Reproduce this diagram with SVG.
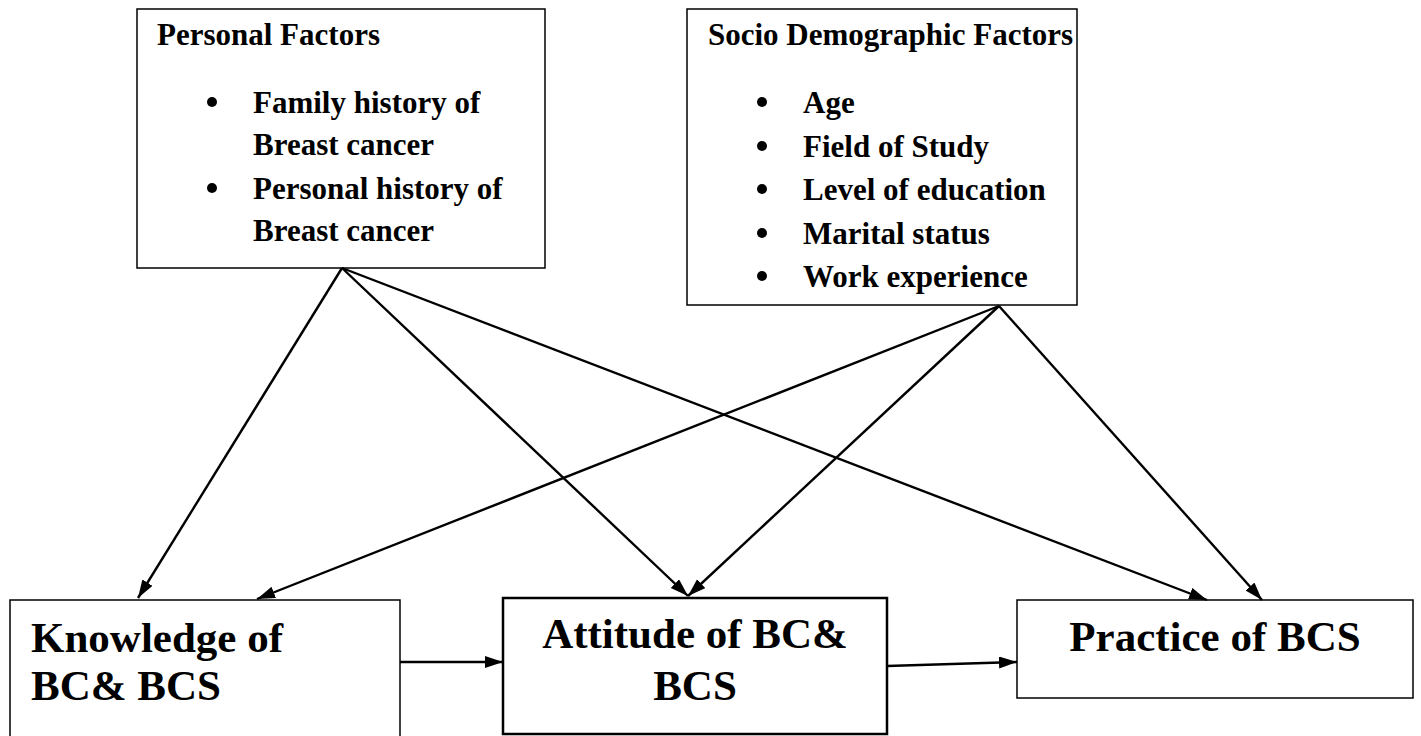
<svg xmlns="http://www.w3.org/2000/svg" width="1421" height="736" viewBox="0 0 1421 736">
<style>
.box{fill:#fff;stroke:#000;stroke-width:1.5}
.boxb{fill:#fff;stroke:#000;stroke-width:2.5}
.t{font-family:"Liberation Serif","Times New Roman",serif;font-weight:bold;fill:#000}
.s{font-size:31px}
.b{font-size:43px}
.c{stroke:#000;stroke-width:2.4;fill:none;marker-end:url(#ah)}
</style>
<defs>
<marker id="ah" markerUnits="userSpaceOnUse" markerWidth="20" markerHeight="14" refX="18" refY="6" orient="auto">
<path d="M0,0 L18,6 L0,12 z" fill="#000"/>
</marker>
</defs>
<rect width="1421" height="736" fill="#fff"/>
<g id="personal">
<rect class="box" x="137" y="9" width="408" height="259"/>
<text class="t s" x="157" y="45">Personal Factors</text>
<circle cx="212" cy="102" r="5"/>
<text class="t s" x="253" y="113">Family history of</text>
<text class="t s" x="253" y="155">Breast cancer</text>
<circle cx="212" cy="188" r="5"/>
<text class="t s" x="253" y="199">Personal history of</text>
<text class="t s" x="253" y="241">Breast cancer</text>
</g>
<g id="socio">
<rect class="box" x="687" y="9" width="390" height="296"/>
<text class="t s" x="708" y="45">Socio Demographic Factors</text>
<circle cx="762" cy="102" r="5"/>
<text class="t s" x="803" y="113">Age</text>
<circle cx="762" cy="146" r="5"/>
<text class="t s" x="803" y="157">Field of Study</text>
<circle cx="762" cy="189" r="5"/>
<text class="t s" x="803" y="200">Level of education</text>
<circle cx="762" cy="233" r="5"/>
<text class="t s" x="803" y="244">Marital status</text>
<circle cx="762" cy="276" r="5"/>
<text class="t s" x="803" y="287">Work experience</text>
</g>
<g id="knowledge">
<rect class="box" x="10" y="600" width="390" height="145"/>
<text class="t b" x="31" y="652">Knowledge of</text>
<text class="t b" x="31" y="700">BC&amp; BCS</text>
</g>
<g id="attitude">
<rect class="boxb" x="503" y="598" width="384" height="136"/>
<text class="t b" x="695" y="648" text-anchor="middle">Attitude of BC&amp;</text>
<text class="t b" x="695" y="700" text-anchor="middle">BCS</text>
</g>
<g id="practice">
<rect class="box" x="1017" y="600" width="396" height="98"/>
<text class="t b" x="1215" y="651" text-anchor="middle">Practice of BCS</text>
</g>
<g id="connectors">
<line class="c" x1="342" y1="268" x2="138" y2="598"/>
<line class="c" x1="342" y1="268" x2="688" y2="596"/>
<line class="c" x1="342" y1="268" x2="1207" y2="600"/>
<line class="c" x1="999" y1="306" x2="257" y2="599"/>
<line class="c" x1="999" y1="306" x2="688" y2="596"/>
<line class="c" x1="999" y1="306" x2="1262" y2="600"/>
<line class="c" x1="400" y1="662" x2="503" y2="662"/>
<line class="c" x1="887" y1="666" x2="1017" y2="662"/>
</g>
</svg>
